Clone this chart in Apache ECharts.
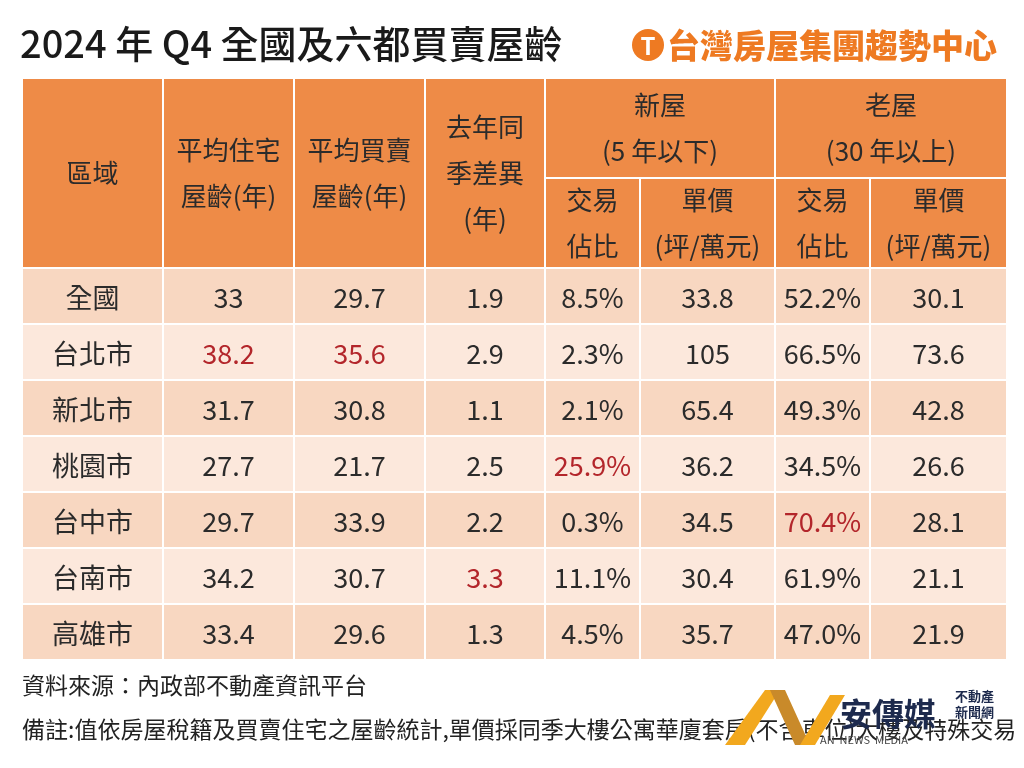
<!DOCTYPE html>
<html><head><meta charset="utf-8">
<script src="https://cdn.jsdelivr.net/npm/echarts@6/dist/echarts.min.js"></script>
<style>html,body{margin:0;padding:0;background:#fff}#c{width:1024px;height:768px}</style>
</head><body><div id="c"></div>
<script>
const regions=['全國','台北市','新北市','桃園市','台中市','台南市','高雄市'];
const avgHouseAge=['33','38.2','31.7','27.7','29.7','34.2','33.4'];
const avgTradeAge=['29.7','35.6','30.8','21.7','33.9','30.7','29.6'];
const yoyDiff=['1.9','2.9','1.1','2.5','2.2','3.3','1.3'];
const newShare=['8.5%','2.3%','2.1%','25.9%','0.3%','11.1%','4.5%'];
const newPrice=['33.8','105','65.4','36.2','34.5','30.4','35.7'];
const oldShare=['52.2%','66.5%','49.3%','34.5%','70.4%','61.9%','47.0%'];
const oldPrice=['30.1','73.6','42.8','26.6','28.1','21.1','21.9'];
const highlights=[[1,1],[1,2],[3,4],[4,6],[5,3]]; // [row,col]
const columns=[regions,avgHouseAge,avgTradeAge,yoyDiff,newShare,newPrice,oldShare,oldPrice];

// layout (pixel-unit column edges relative to table left)
const edges=[0,141,272,403,523,618,753,848,985];
const L=22, HT=78, HM=178, BT=268;
const FONT='"Noto Sans CJK TC","Noto Sans CJK SC",sans-serif';
const data=[];
regions.forEach((r,ri)=>columns.forEach((col,ci)=>{
  const red=highlights.some(h=>h[0]===ri&&h[1]===ci);
  data.push([ci,ri,col[ri],red?1:0]);
}));
const hdrColor='#EE8B47', lineC='#ffffff';
const g=[];
function hcell(x0,x1,y0,y1,txt){
  g.push({type:'rect',shape:{x:L+x0,y:y0,width:x1-x0,height:y1-y0},style:{fill:hdrColor,stroke:lineC,lineWidth:2}});
  g.push({type:'text',x:L+(x0+x1)/2,y:(y0+y1)/2,style:{text:txt,fill:'#2b2b2b',font:'26px '+FONT,align:'center',verticalAlign:'middle',lineHeight:46}});
}
hcell(0,141,HT,BT,'區域');
hcell(141,272,HT,BT,'平均住宅\n屋齡(年)');
hcell(272,403,HT,BT,'平均買賣\n屋齡(年)');
hcell(403,523,HT,BT,'去年同\n季差異\n(年)');
hcell(523,753,HT,HM,'新屋\n(5 年以下)');
hcell(753,985,HT,HM,'老屋\n(30 年以上)');
hcell(523,618,HM,BT,'交易\n佔比');
hcell(618,753,HM,BT,'單價\n(坪/萬元)');
hcell(753,848,HM,BT,'交易\n佔比');
hcell(848,985,HM,BT,'單價\n(坪/萬元)');
// title + logo
g.push({type:'text',x:20,y:44,style:{text:'2024 年 Q4 全國及六都買賣屋齡',fill:'#1a1a1a',font:'500 38px '+FONT,verticalAlign:'middle'}});
g.push({type:'circle',shape:{cx:648,cy:45,r:16},style:{fill:'#EE7A22'}});
g.push({type:'text',x:648,y:46,style:{text:'T',fill:'#fff',font:'bold 24px '+FONT,align:'center',verticalAlign:'middle'}});
g.push({type:'text',x:667,y:45,style:{text:'台灣房屋集團趨勢中心',fill:'#EE7A22',font:'900 33px '+FONT,verticalAlign:'middle'}});
// footnotes
g.push({type:'text',x:22,y:685,style:{text:'資料來源：內政部不動產資訊平台',fill:'#222',font:'23px '+FONT,verticalAlign:'middle'}});
g.push({type:'text',x:22,y:729,style:{text:'備註:值依房屋稅籍及買賣住宅之屋齡統計,單價採同季大樓公寓華廈套房(不含車位)大樓及特殊交易',fill:'#222',font:'23px '+FONT,verticalAlign:'middle'}});
// watermark
g.push({type:'polygon',shape:{points:[[725,745],[765,690],[780,690],[745,745]]},style:{fill:'#F2A81E'}});
g.push({type:'polygon',shape:{points:[[770,690],[795,745],[810,745],[785,690]]},style:{fill:'#C98A2A'}});
g.push({type:'polygon',shape:{points:[[800,745],[830,695],[845,695],[815,745]]},style:{fill:'#F2A81E'}});
g.push({type:'text',x:840,y:714,style:{text:'安傳媒',fill:'#1d2a4d',font:'bold 32px '+FONT,verticalAlign:'middle'}});
g.push({type:'text',x:955,y:704,style:{text:'不動產\n新聞網',fill:'#1d2a4d',font:'bold 13px '+FONT,verticalAlign:'middle',lineHeight:16}});
g.push({type:'text',x:820,y:740,style:{text:'AN  NEWS  MEDIA',fill:'#444',font:'11px '+FONT,verticalAlign:'middle'}});

const chart=echarts.init(document.getElementById('c'));
chart.setOption({
  animation:false,
  grid:{left:L,top:BT,width:985,height:392},
  xAxis:{type:'value',min:0,max:985,show:false},
  yAxis:{type:'category',data:regions,inverse:true,show:false},
  series:[{type:'custom',data:data,renderItem:(params,api)=>{
    const c=api.value(0), r=api.value(1);
    const p0=api.coord([edges[c],r]), p1=api.coord([edges[c+1],r]);
    const h=api.size([0,1])[1];
    const fill=r%2===0?'#F8D7C1':'#FCE8DC';
    return {type:'group',children:[
      {type:'rect',shape:{x:p0[0],y:p0[1]-h/2,width:p1[0]-p0[0],height:h},style:{fill:fill,stroke:'#fff',lineWidth:2}},
      {type:'text',x:(p0[0]+p1[0])/2,y:p0[1]+2,style:{text:data[params.dataIndex][2],fill:api.value(3)?'#B3262B':'#2b2b2b',font:'27px '+FONT,align:'center',verticalAlign:'middle'}}
    ]};
  }}],
  graphic:g
});
</script></body></html>
